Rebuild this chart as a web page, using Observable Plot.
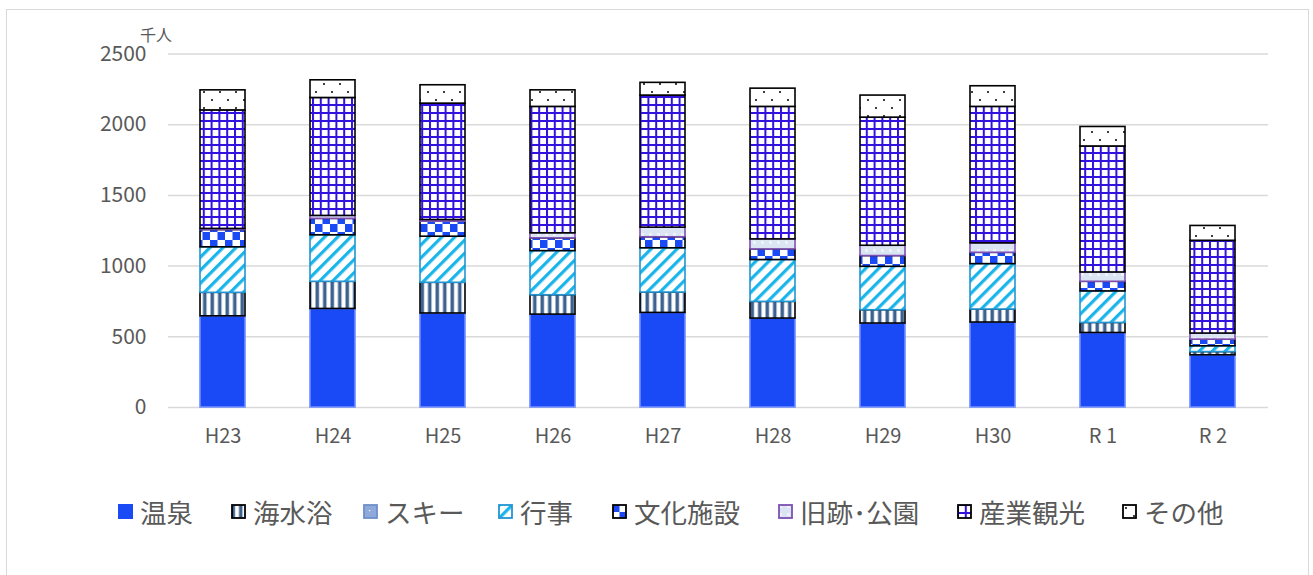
<!DOCTYPE html>
<html>
<head>
<meta charset="utf-8">
<script src="https://cdn.jsdelivr.net/npm/d3@7"></script>
<script src="https://cdn.jsdelivr.net/npm/@observablehq/plot@0.6"></script>
<style>
  html, body { margin: 0; padding: 0; background: #fff; }
  body { width: 1313px; height: 575px; overflow: hidden; position: relative;
         font-family: "Noto Sans CJK JP", "Noto Sans", sans-serif; color: #595959; }
  #frame { position: absolute; left: 6px; top: 9px; width: 1303px; height: 600px;
           border: 1.5px solid #d9d9d9; box-sizing: border-box; }
  #chart { position: absolute; left: 0; top: 0; }
  #unit { position: absolute; left: 140px; top: 22px; font-size: 16px; color: #595959; }
  #legend { position: absolute; left: 0; top: 491px; width: 1313px; height: 40px;
            font-size: 26.5px; color: #595959; white-space: nowrap; }
  #legend .item { position: absolute; top: 0; display: flex; align-items: center; height: 40px; }
  #legend svg { margin-right: 7px; }
</style>
</head>
<body>
<div id="frame"></div>
<svg width="0" height="0" style="position:absolute">
  <defs>
    <pattern id="p-kaisui" patternUnits="userSpaceOnUse" width="7.5" height="10">
      <rect width="7.5" height="10" fill="#ffffff"/>
      <rect x="0.5" width="3.5" height="10" fill="#3d6290"/>
    </pattern>
    <pattern id="p-ski" patternUnits="userSpaceOnUse" width="8" height="8">
      <rect width="8" height="8" fill="#8eaadb"/>
      <rect x="6" y="6" width="1.2" height="1.2" fill="#ffffff"/>
    </pattern>
    <pattern id="p-gyoji" patternUnits="userSpaceOnUse" width="9.2" height="10" patternTransform="rotate(45)">
      <rect width="9.2" height="10" fill="#ffffff"/>
      <rect x="0" width="3.2" height="10" fill="#19b5ea"/>
    </pattern>
    <pattern id="p-bunka" patternUnits="userSpaceOnUse" width="15" height="16">
      <rect width="15" height="16" fill="#ffffff"/>
      <rect x="0" y="0" width="7.5" height="8" fill="#1a4af5"/>
      <rect x="7.5" y="8" width="7.5" height="8" fill="#1a4af5"/>
    </pattern>
    <pattern id="p-kyuseki" patternUnits="userSpaceOnUse" width="8" height="8">
      <rect width="8" height="8" fill="#dbe4f3"/>
      <rect x="1" y="1" width="3" height="3" fill="#eef2f9"/>
    </pattern>
    <pattern id="p-sangyo" patternUnits="userSpaceOnUse" width="7.8" height="8">
      <rect width="7.8" height="8" fill="#ffffff"/>
      <rect x="0" y="0" width="2" height="8" fill="#3011dd"/>
      <rect x="0" y="0" width="7.8" height="2" fill="#3011dd"/>
    </pattern>
    <pattern id="p-sonota" patternUnits="userSpaceOnUse" width="16" height="16">
      <rect width="16" height="16" fill="#ffffff"/>
      <circle cx="4" cy="4" r="1" fill="#000"/>
      <circle cx="12" cy="12" r="1" fill="#000"/>
    </pattern>
  </defs>
</svg>
<div id="chart"></div>
<div id="unit">千人</div>
<div id="legend"></div>
<script>
const categories = ["H23","H24","H25","H26","H27","H28","H29","H30","R 1","R 2"];
const seriesNames = ["温泉","海水浴","スキー","行事","文化施設","旧跡･公園","産業観光","その他"];

const onsen   = [645, 697, 665, 657, 669, 629, 594, 601, 527, 369];
const kaisui  = [166, 192, 217, 137, 144, 118,  94,  92,  71,  23];
const ski     = [  0,   0,   0,   0,   0,   0,   0,   0,   0,   0];
const gyoji   = [322, 329, 326, 312, 313, 296, 307, 321, 223,  41];
const bunka   = [122, 116, 106,  90,  78,  75,  76,  80,  68,  47];
const kyuseki = [  8,  21,  12,  36,  68,  71,  73,  67,  66,  43];
const sangyo  = [838, 834, 823, 894, 934, 937, 906, 965, 891, 656];
const sonota  = [142, 125, 130, 117,  90, 129, 156, 146, 138, 105];

const yTicks = [0, 500, 1000, 1500, 2000, 2500];

const seriesValues = [onsen, kaisui, ski, gyoji, bunka, kyuseki, sangyo, sonota];
const fills   = ["#1a4af5","url(#p-kaisui)","url(#p-ski)","url(#p-gyoji)","url(#p-bunka)","url(#p-kyuseki)","url(#p-sangyo)","url(#p-sonota)"];
const strokes = ["#6f8cff","#000000","#6e8fc8","#2196d3","#000000","#7d4fb3","#000000","#000000"];
const legendX = [118, 231, 363, 498, 612, 778, 957, 1122];

const table = [];
categories.forEach((c, i) => {
  seriesNames.forEach((s, k) => {
    table.push({cat: c, series: s, k, value: seriesValues[k][i]});
  });
});
const nonzero = table.filter(d => d.value > 0);

const chart = Plot.plot({
  width: 1313,
  height: 460,
  marginLeft: 168,
  marginRight: 45,
  marginTop: 53.5,
  marginBottom: 53,
  style: {fontFamily: "'Noto Sans CJK JP', 'Noto Sans', sans-serif", color: "#595959", background: "transparent"},
  x: {domain: categories, paddingInner: 0.59, paddingOuter: 0.295, label: null},
  y: {domain: [0, 2500], label: null},
  color: {type: "identity"},
  marks: [
    Plot.ruleY(yTicks, {stroke: "#d9d9d9", strokeWidth: 1.5}),
    Plot.barY(nonzero, Plot.stackY({
      x: "cat", y: "value", z: "series",
      fill: d => fills[d.k], stroke: d => strokes[d.k],
      strokeWidth: 1.6
    })),
    Plot.axisY({ticks: yTicks, tickSize: 0, tickPadding: 22, fontSize: 21, fill: "#595959", tickFormat: d => String(d)}),
    Plot.axisX({tickSize: 0, tickPadding: 21, fontSize: 20, fill: "#595959", letterSpacing: "2.5px"})
  ]
});
document.getElementById("chart").appendChild(chart);

// legend
const legend = document.getElementById("legend");
seriesNames.forEach((s, k) => {
  const item = document.createElement("div");
  item.className = "item";
  item.style.left = legendX[k] + "px";
  const ns = "http://www.w3.org/2000/svg";
  const sw = document.createElementNS(ns, "svg");
  sw.setAttribute("width", 15); sw.setAttribute("height", 15);
  const r = document.createElementNS(ns, "rect");
  const inset = k === 0 ? 0 : 1;
  r.setAttribute("x", inset); r.setAttribute("y", inset);
  r.setAttribute("width", 15 - 2 * inset); r.setAttribute("height", 15 - 2 * inset);
  r.setAttribute("fill", fills[k]);
  if (k !== 0) { r.setAttribute("stroke", strokes[k]); r.setAttribute("stroke-width", 1.8); }
  sw.appendChild(r);
  item.appendChild(sw);
  const t = document.createElement("span");
  t.textContent = s;
  item.appendChild(t);
  legend.appendChild(item);
});
</script>
</body>
</html>
